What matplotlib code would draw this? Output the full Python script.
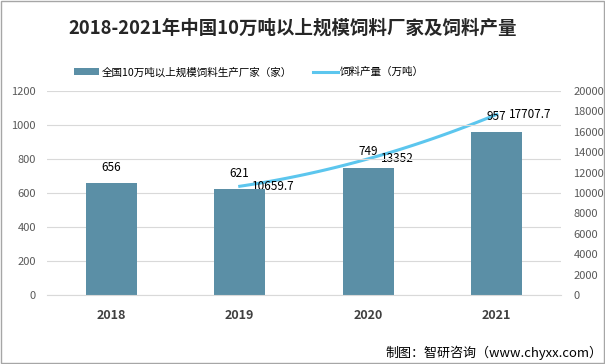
import matplotlib.pyplot as plt
import numpy as np

plt.rcParams['font.family'] = ['Noto Sans CJK SC', 'DejaVu Sans']

years = ['2018', '2019', '2020', '2021']
factories = [656, 621, 749, 957]
feed_years = ['2019', '2020', '2021']
feed_output = [10659.7, 13352, 17707.7]

bar_color = '#5B8FA6'
line_color = '#5CC6EE'

fig = plt.figure(figsize=(6.05, 3.64), dpi=100)
ax = fig.add_axes([47 / 605, 69 / 364, 514 / 605, 204 / 364])
ax2 = ax.twinx()

x = np.arange(len(years))
ax.bar(x, factories, width=0.40, color=bar_color, zorder=2, label='全国10万吨以上规模饲料生产厂家（家）')
for xi, v in zip(x, factories):
    ax.annotate(str(v), (xi, v), xytext=(0, 7), textcoords='offset points',
                ha='center', va='bottom', fontsize=8.5, color='black')

ax.set_ylim(0, 1200)
ax.set_yticks(range(0, 1201, 200))
ax.set_xlim(-0.5, 3.5)
ax.set_xticks(x)
ax.set_xticklabels(years, fontsize=9, fontweight='bold', color='#404040')
ax.yaxis.grid(True, color='#d9d9d9', linewidth=0.8, zorder=0)
ax.set_axisbelow(True)
ax.tick_params(axis='y', length=0, labelsize=8, labelcolor='#595959', pad=8)
ax.tick_params(axis='x', length=0, pad=10)
for s in ax.spines.values():
    s.set_visible(False)
ax.spines['bottom'].set_visible(True)
ax.spines['bottom'].set_color('#d9d9d9')

# smooth line through the feed output points
lx = np.array([years.index(y) for y in feed_years], dtype=float)
coef = np.polyfit(lx, feed_output, 2)
xs = np.linspace(lx[0], lx[-1], 50)
ax2.plot(xs, np.polyval(coef, xs), color=line_color, linewidth=2.2, zorder=1, label='饲料产量（万吨）')
for xi, v in zip(lx, feed_output):
    ax2.annotate(f'{v:g}', (xi, v), xytext=(9, 0), textcoords='offset points',
                 ha='left', va='center', fontsize=8.5, color='black')

ax2.set_ylim(0, 20000)
ax2.set_yticks(range(0, 20001, 2000))
ax2.tick_params(axis='y', length=0, labelsize=8, labelcolor='#595959', pad=9)
for s in ax2.spines.values():
    s.set_visible(False)
ax.set_zorder(ax2.get_zorder() + 1)
ax.patch.set_visible(False)

h1, l1 = ax.get_legend_handles_labels()
h2, l2 = ax2.get_legend_handles_labels()
fig.legend(h1 + h2, l1 + l2, loc='center', bbox_to_anchor=(249 / 605, 1 - 72 / 364), ncol=2,
           frameon=False, fontsize=7.6, handlelength=2.4, columnspacing=2.0, handletextpad=0.2)

fig.text(293 / 605, 1 - 28 / 364, '2018-2021年中国10万吨以上规模饲料厂家及饲料产量', ha='center', va='center',
         fontsize=13.3, fontweight='bold', color='#262626')
fig.text(602 / 605, 1 - 353 / 364, '制图：智研咨询（www.chyxx.com）', ha='right', va='center',
         fontsize=9.4, color='black')

fig.patches.append(plt.Rectangle((0.001, 0.002), 0.997, 0.995, transform=fig.transFigure,
                                 fill=False, edgecolor='#a6a6a6', linewidth=1))

fig.savefig('out.png', dpi=100)
